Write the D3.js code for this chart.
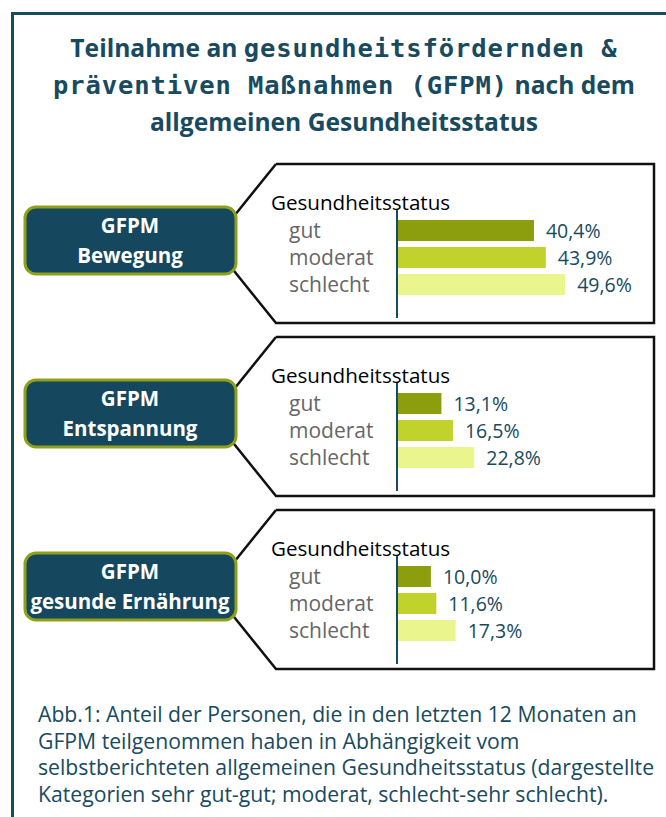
<!DOCTYPE html>
<html>
<head>
<meta charset="utf-8">
<script src="https://cdn.jsdelivr.net/npm/d3@7"></script>
<style>
  body { margin: 0; background: #fff; }
  svg { display: block; }
</style>
</head>
<body>
<div id="chart-area"></div>
<script>
// data
const categories = ['gut', 'moderat', 'schlecht'];
const measures = ['Bewegung', 'Entspannung', 'gesunde Ernährung'];
const bewegung = [40.4, 43.9, 49.6];
const entspannung = [13.1, 16.5, 22.8];
const ernaehrung = [10.0, 11.6, 17.3];
const seriesValues = [bewegung, entspannung, ernaehrung];
const axisTitle = 'Gesundheitsstatus';
const titleLines = [
    [['Teilnahme an ', 'sans'], ['gesundheitsfördernden &', 'mono']],
    [['präventiven Maßnahmen (GFPM)', 'mono'], [' nach dem', 'sans']],
    [['allgemeinen Gesundheitsstatus', 'sans']]
];
const captionLines = [
    'Abb.1: Anteil der Personen, die in den letzten 12 Monaten an',
    'GFPM teilgenommen haben in Abhängigkeit vom',
    'selbstberichteten allgemeinen Gesundheitsstatus (dargestellte',
    'Kategorien sehr gut-gut; moderat, schlecht-sehr schlecht).'
];

const width = 666, height = 817;
const teal = '#184a60';
const barColors = ['#8c9e0e', '#c1d22c', '#ebf58e'];
const sansFont = '"Open Sans", Lato, sans-serif';
const monoFont = '"DejaVu Sans Mono", monospace';

const de = d3.formatLocale({ decimal: ',', thousands: '.', grouping: [3], currency: ['', ' €'] });
const fmt = v => de.format('.1f')(v) + '%';

const svg = d3.select('#chart-area').append('svg')
    .attr('width', width)
    .attr('height', height);

// outer frame
svg.append('rect')
    .attr('x', 12.5).attr('y', 13.5)
    .attr('width', 720).attr('height', 900)
    .attr('fill', 'none')
    .attr('stroke', teal)
    .attr('stroke-width', 3);

// title
const title = svg.append('text')
    .attr('text-anchor', 'middle')
    .attr('fill', teal)
    .attr('font-weight', 'bold');
titleLines.forEach((line, i) => {
    line.forEach((seg, j) => {
        const ts = title.append('tspan')
            .text(seg[0])
            .attr('font-family', seg[1] === 'mono' ? monoFont : sansFont)
            .attr('font-size', seg[1] === 'mono' ? 25.5 : 24.6)
            .attr('letter-spacing', seg[1] === 'mono' ? 0.9 : 0)
            .attr('xml:space', 'preserve');
        if (j === 0) ts.attr('x', 344).attr('y', 57 + i * 37);
    });
});

// panels
const panelTops = [164, 337, 510];
const x = d3.scaleLinear().domain([0, 100]).range([0, 339]);
const y = d3.scaleBand().domain(categories).range([0, 81]).paddingInner(0.22).paddingOuter(0.11);
const color = d3.scaleOrdinal().domain(categories).range(barColors);
const axisX = 397;

measures.forEach((m, i) => {
    const top = panelTops[i];
    const g = svg.append('g').attr('transform', `translate(0, ${top})`);
    const h = 159;

    // callout shape
    g.append('path')
        .attr('d', d3.line()([[276, 0], [654, 0], [654, h], [276, h], [212, h / 2], [276, 0]]))
        .attr('fill', '#fff')
        .attr('stroke', '#111')
        .attr('stroke-width', 2.5)
        .attr('stroke-linejoin', 'miter');

    // label box
    g.append('rect')
        .attr('x', 25).attr('y', 43)
        .attr('width', 211).attr('height', 67)
        .attr('rx', 11)
        .attr('fill', '#15475e')
        .attr('stroke', '#8fa019')
        .attr('stroke-width', 3);
    const lbl = g.append('text')
        .attr('text-anchor', 'middle')
        .attr('fill', '#fff')
        .attr('font-family', sansFont)
        .attr('font-weight', 'bold')
        .attr('font-size', 20.5);
    lbl.append('tspan').attr('x', 130).attr('y', 69).text('GFPM');
    lbl.append('tspan').attr('x', 130).attr('y', 99).text(m);

    // chart
    const c = g.append('g').attr('transform', `translate(${axisX}, 53)`);
    g.append('text')
        .attr('x', 271).attr('y', 46)
        .attr('font-family', sansFont)
        .attr('font-size', 20.6)
        .attr('fill', '#000')
        .text(axisTitle);

    const rows = categories.map((cat, k) => ({ cat: cat, v: seriesValues[i][k] }));

    c.selectAll('rect.bar').data(rows).enter().append('rect')
        .attr('class', 'bar')
        .attr('x', x(0))
        .attr('y', d => y(d.cat))
        .attr('width', d => x(d.v))
        .attr('height', y.bandwidth())
        .attr('fill', d => color(d.cat));

    c.selectAll('text.val').data(rows).enter().append('text')
        .attr('class', 'val')
        .attr('x', d => x(d.v) + 12)
        .attr('y', d => y(d.cat) + y.bandwidth() / 2 + 7)
        .attr('font-family', sansFont)
        .attr('font-size', 19.5)
        .attr('fill', teal)
        .text(d => fmt(d.v));

    const yAxis = d3.axisLeft(y).tickSize(0).tickPadding(0);
    const ax = c.append('g').call(yAxis);
    ax.select('.domain')
        .attr('d', `M0,-8V${y.range()[1] + 20}`)
        .attr('stroke', teal)
        .attr('stroke-width', 2);
    ax.selectAll('.tick text')
        .attr('x', -axisX + 289)
        .attr('dy', '0.34em')
        .attr('text-anchor', 'start')
        .attr('font-family', sansFont)
        .attr('font-size', 21)
        .attr('fill', '#666');
});

// caption
const cap = svg.append('text')
    .attr('font-family', sansFont)
    .attr('font-size', 21.2)
    .attr('fill', teal);
captionLines.forEach((line, i) => {
    cap.append('tspan').attr('x', 38).attr('y', 722 + i * 26.5).text(line);
});
</script>
</body>
</html>
